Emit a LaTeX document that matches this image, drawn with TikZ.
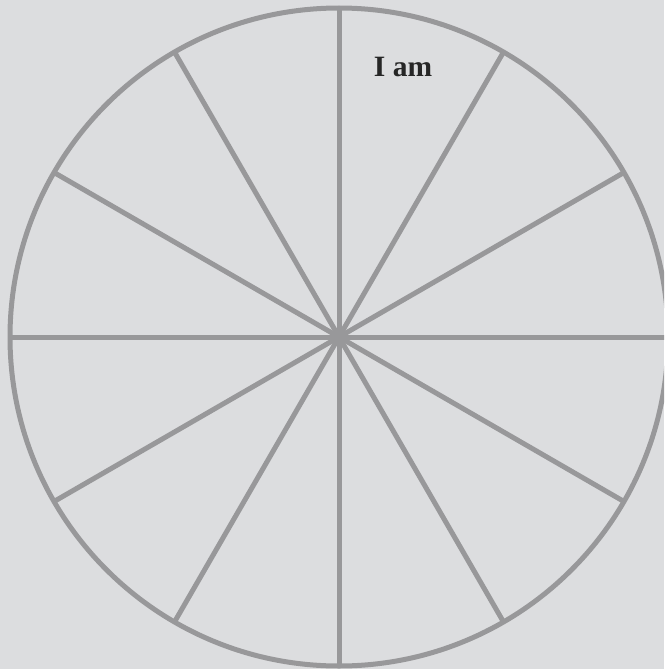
\documentclass[tikz,border=0pt]{standalone}
\usepackage{fontspec}
\setmainfont{Liberation Serif}
\definecolor{bg}{RGB}{220,221,223}
\definecolor{spoke}{RGB}{152,152,154}
\begin{document}
\begin{tikzpicture}[x=1pt,y=-1pt,
  wheel/.style={circle,draw=spoke,line width=5pt,minimum size=658pt,inner sep=0pt,outer sep=0pt},
  spokeline/.style={draw=spoke,line width=5pt},
  label/.style={font=\bfseries\fontsize{29.5}{32}\selectfont,text=black!85,inner sep=0pt}]
\useasboundingbox (0,0) rectangle (664,669);
\clip (0,0) rectangle (664,669);
\fill[bg] (0,0) rectangle (664,669);
\node[wheel] (w) at (339,337) {};
\foreach \a in {0,30,...,330}{
  \draw[spokeline] (w.center) -- (w.\a);
}
\node[label,anchor=base] (t) at (403,76) {I am};
\end{tikzpicture}
\end{document}
